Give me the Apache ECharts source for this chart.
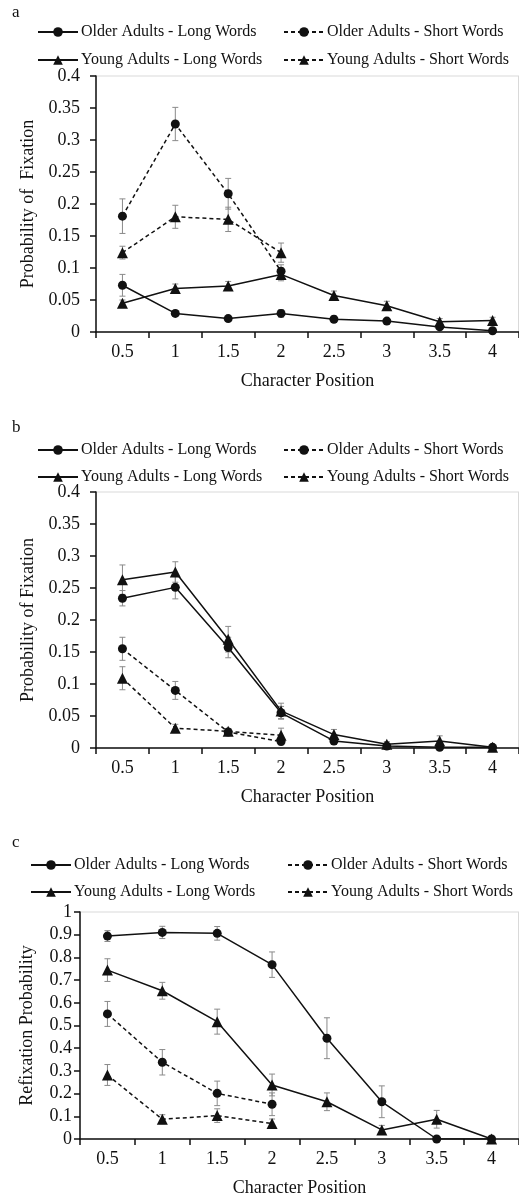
<!DOCTYPE html>
<html>
<head>
<meta charset="utf-8">
<script src="https://cdn.jsdelivr.net/npm/echarts@6/dist/echarts.min.js"></script>
<style>
html,body{margin:0;padding:0;background:#fff;}
#chart{width:519px;height:1198px;}
</style>
</head>
<body>
<div id="chart"></div>
<script>
// ---------- Data ----------
const categories = ['0.5', '1', '1.5', '2', '2.5', '3', '3.5', '4'];
const seriesNames = ['Older Adults - Long Words', 'Older Adults - Short Words', 'Young Adults - Long Words', 'Young Adults - Short Words'];

// Panel a: Probability of Fixation
const aOlderLong = [0.073, 0.029, 0.021, 0.029, 0.020, 0.017, 0.008, 0.002];
const aOlderLongErr = [0.017, 0.004, 0.003, 0.006, 0.005, 0.004, 0.003, 0.001];
const aOlderShort = [0.181, 0.325, 0.216, 0.095];
const aOlderShortErr = [0.027, 0.026, 0.024, 0.010];
const aYoungLong = [0.045, 0.068, 0.072, 0.090, 0.057, 0.041, 0.016, 0.018];
const aYoungLongErr = [0.005, 0.007, 0.007, 0.010, 0.007, 0.007, 0.005, 0.005];
const aYoungShort = [0.124, 0.180, 0.176, 0.124];
const aYoungShortErr = [0.010, 0.018, 0.019, 0.015];

// Panel b: Probability of Fixation
const bOlderLong = [0.234, 0.251, 0.157, 0.055, 0.011, 0.003, 0.001, 0.001];
const bOlderLongErr = [0.012, 0.018, 0.016, 0.010, 0.005, 0.002, 0.001, 0.001];
const bOlderShort = [0.155, 0.090, 0.025, 0.010];
const bOlderShortErr = [0.018, 0.014, 0.005, 0.005];
const bYoungLong = [0.263, 0.275, 0.170, 0.058, 0.021, 0.006, 0.011, 0.001];
const bYoungLongErr = [0.023, 0.016, 0.020, 0.012, 0.008, 0.004, 0.008, 0.001];
const bYoungShort = [0.109, 0.031, 0.026, 0.020];
const bYoungShortErr = [0.018, 0.006, 0.004, 0.011];

// Panel c: Refixation Probability
const cOlderLong = [0.894, 0.910, 0.906, 0.768, 0.444, 0.164, 0, 0];
const cOlderLongErr = [0.024, 0.027, 0.030, 0.056, 0.090, 0.070, 0, 0];
const cOlderShort = [0.551, 0.338, 0.201, 0.153];
const cOlderShortErr = [0.055, 0.056, 0.054, 0.050];
const cYoungLong = [0.744, 0.653, 0.517, 0.238, 0.164, 0.040, 0.087, 0];
const cYoungLongErr = [0.050, 0.037, 0.055, 0.048, 0.039, 0.020, 0.039, 0];
const cYoungShort = [0.282, 0.087, 0.103, 0.068];
const cYoungShortErr = [0.046, 0.020, 0.030, 0.020];

const panelLetters = ['a', 'b', 'c'];
const yAxisNames = ['Probability of  Fixation', 'Probability of Fixation', 'Refixation Probability'];
const xAxisName = 'Character Position';
const yMax = [0.4, 0.4, 1];
const yInterval = [0.05, 0.05, 0.1];

const panels = [
  {vals: [aOlderLong, aOlderShort, aYoungLong, aYoungShort], errs: [aOlderLongErr, aOlderShortErr, aYoungLongErr, aYoungShortErr]},
  {vals: [bOlderLong, bOlderShort, bYoungLong, bYoungShort], errs: [bOlderLongErr, bOlderShortErr, bYoungLongErr, bYoungShortErr]},
  {vals: [cOlderLong, cOlderShort, cYoungLong, cYoungShort], errs: [cOlderLongErr, cOlderShortErr, cYoungLongErr, cYoungShortErr]}
];

// ---------- Layout ----------
const FONT = 'Liberation Serif';
const TXT = '#111';
const grids = [
  {left: 96, top: 76, width: 425, height: 256},
  {left: 96, top: 492, width: 425, height: 256},
  {left: 80, top: 912, width: 442, height: 227}
];
const yNameGap = [54, 54, 44];
const yLabelMargin = [16, 16, 8];
const letterTop = [4, 419, 834];
const legendRows = [[32, 60], [450, 477], [865, 892]];
const legendCols = [[37, 283], [37, 283], [30, 287]];

const styles = [
  {symbol: 'circle', size: 9, type: 'solid'},
  {symbol: 'circle', size: 9, type: [4, 3]},
  {symbol: 'triangle', size: 11, type: 'solid'},
  {symbol: 'triangle', size: 11, type: [4, 3]}
];

const option = {
  animation: false,
  backgroundColor: '#fff',
  textStyle: {fontFamily: FONT},
  grid: [], xAxis: [], yAxis: [], series: [], legend: [], graphic: []
};

function errRender(params, api) {
  const i = api.value(0);
  const lo = api.coord([i, api.value(1)]);
  const hi = api.coord([i, api.value(2)]);
  const w = 3;
  const st = {stroke: '#8a8a8a', lineWidth: 1};
  return {
    type: 'group',
    children: [
      {type: 'line', shape: {x1: lo[0], y1: lo[1], x2: hi[0], y2: hi[1]}, style: st},
      {type: 'line', shape: {x1: lo[0] - w, y1: lo[1], x2: lo[0] + w, y2: lo[1]}, style: st},
      {type: 'line', shape: {x1: hi[0] - w, y1: hi[1], x2: hi[0] + w, y2: hi[1]}, style: st}
    ]
  };
}

panels.forEach((p, k) => {
  const g = grids[k];
  option.grid.push(Object.assign({show: true, borderColor: '#d9d9d9', borderWidth: 1, backgroundColor: 'transparent'}, g));
  option.xAxis.push({
    type: 'category', gridIndex: k, data: categories, boundaryGap: true,
    axisLine: {lineStyle: {color: '#111', width: 1.5}},
    axisTick: {show: true, length: 6, lineStyle: {color: '#111', width: 1.5}},
    axisLabel: {color: TXT, fontSize: 18, fontFamily: FONT, margin: 11},
    name: xAxisName, nameLocation: 'middle', nameGap: 40,
    nameTextStyle: {color: TXT, fontSize: 18, fontFamily: FONT},
    splitLine: {show: false}
  });
  option.yAxis.push({
    type: 'value', gridIndex: k, min: 0, max: yMax[k], interval: yInterval[k],
    axisLine: {show: true, lineStyle: {color: '#111', width: 1.5}},
    axisTick: {show: true, length: 6, lineStyle: {color: '#111', width: 1.5}},
    axisLabel: {color: TXT, fontSize: 18, fontFamily: FONT, margin: yLabelMargin[k]},
    splitLine: {show: false},
    name: yAxisNames[k], nameLocation: 'middle', nameGap: yNameGap[k], nameRotate: 90,
    nameTextStyle: {color: TXT, fontSize: 18, fontFamily: FONT}
  });
  // right-side light border of the plot frame
  option.graphic.push({
    type: 'line', z: 0,
    shape: {x1: 518.5, y1: g.top, x2: 518.5, y2: g.top + g.height},
    style: {stroke: '#d9d9d9', lineWidth: 1}
  });
  option.graphic.push({
    type: 'text', left: 12, top: letterTop[k],
    style: {text: panelLetters[k], font: '17px ' + FONT, fill: TXT}
  });

  p.vals.forEach((vals, s) => {
    const errs = p.errs[s];
    const errData = [];
    vals.forEach((v, i) => { if (errs[i] > 0) errData.push([i, v - errs[i], v + errs[i]]); });
    option.series.push({
      type: 'custom', name: 'err' + k + s, xAxisIndex: k, yAxisIndex: k,
      renderItem: errRender, data: errData, z: 1, silent: true
    });
  });
  p.vals.forEach((vals, s) => {
    const st = styles[s];
    option.series.push({
      type: 'line', name: seriesNames[s], xAxisIndex: k, yAxisIndex: k,
      data: vals, symbol: st.symbol, symbolSize: st.size, showSymbol: true,
      lineStyle: {color: '#111', width: 1.5, type: st.type},
      itemStyle: {color: '#111', borderWidth: 0},
      z: 3
    });
  });

  // legends: 2 columns x 2 rows
  seriesNames.forEach((nm, s) => {
    const row = Math.floor(s / 2), col = s % 2;
    option.legend.push({
      data: [nm], left: legendCols[k][col], top: legendRows[k][row] - 8,
      padding: 0, itemWidth: 40, itemHeight: 12, itemGap: 0, selectedMode: false,
      textStyle: {color: TXT, fontSize: 16, fontFamily: FONT, padding: [0, 0, 0, -2]}
    });
  });
});

const chart = echarts.init(document.getElementById('chart'), null, {renderer: 'canvas'});
chart.setOption(option);
</script>
</body>
</html>
